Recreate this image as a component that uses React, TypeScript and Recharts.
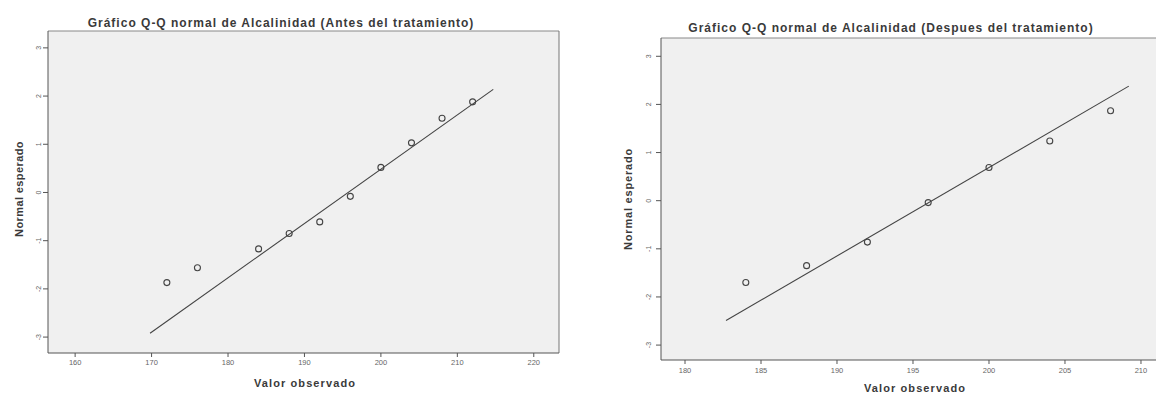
import React from 'react';
import { ScatterChart, Scatter, XAxis, YAxis, ReferenceLine, ReferenceArea } from 'recharts';

const antesX = [172, 176, 184, 188, 192, 196, 200, 204, 208, 212];
const antesY = [-1.87, -1.56, -1.17, -0.85, -0.61, -0.08, 0.52, 1.03, 1.54, 1.88];
const antesLineX = [169.8, 214.7];
const antesLineY = [-2.92, 2.14];
const antesXTicks = [160, 170, 180, 190, 200, 210, 220];

const despuesX = [184, 188, 192, 196, 200, 204, 208];
const despuesY = [-1.7, -1.35, -0.86, -0.04, 0.69, 1.24, 1.87];
const despuesLineX = [182.7, 209.2];
const despuesLineY = [-2.49, 2.38];
const despuesXTicks = [180, 185, 190, 195, 200, 205, 210];

const yTicks = [-3, -2, -1, 0, 1, 2, 3];

const titleAntes = 'Gráfico Q-Q normal de Alcalinidad (Antes del tratamiento)';
const titleDespues = 'Gráfico Q-Q normal de Alcalinidad (Despues del tratamiento)';
const yLabel = 'Normal esperado';
const xLabel = 'Valor observado';

const FONT = '"Liberation Sans", Arial, sans-serif';
const INK = '#3a3a3a';

const toPoints = (xs: number[], ys: number[]) => xs.map((x, i) => ({ x, y: ys[i] }));

const Dot = (props: any) => {
  const { cx, cy } = props;
  if (cx == null || cy == null) return null;
  return <circle cx={cx} cy={cy} r={3} fill="none" stroke="#444" strokeWidth={1.1} />;
};

const YTick = (props: any) => {
  const { x, y, payload } = props;
  return (
    <text
      x={x}
      y={y}
      transform={`rotate(-90 ${x} ${y})`}
      textAnchor="middle"
      fontSize={7}
      fill="#666"
      fontFamily={FONT}
    >
      {payload.value}
    </text>
  );
};

const XTick = (props: any) => {
  const { x, y, payload } = props;
  return (
    <text x={x} y={y} dy={6} textAnchor="middle" fontSize={7.5} fill="#666" fontFamily={FONT}>
      {payload.value}
    </text>
  );
};

type QQProps = {
  width: number;
  height: number;
  margin: { top: number; right: number; bottom: number; left: number };
  yAxisWidth: number;
  xAxisHeight: number;
  xDomain: [number, number];
  yDomain: [number, number];
  xTicks: number[];
  xs: number[];
  ys: number[];
  lineX: number[];
  lineY: number[];
  yTickMargin: number;
  xTickMargin: number;
  rightBorder: boolean;
};

const QQChart = (p: QQProps) => {
  const data = toPoints(p.xs, p.ys);
  const seg = toPoints(p.lineX, p.lineY);
  return (
    <ScatterChart width={p.width} height={p.height} margin={p.margin}>
      <XAxis
        type="number"
        dataKey="x"
        domain={p.xDomain}
        ticks={p.xTicks}
        allowDataOverflow
        height={p.xAxisHeight}
        tickSize={4}
        tickMargin={p.xTickMargin}
        tick={<XTick />}
        stroke="#555"
        axisLine={{ stroke: '#555' }}
        tickLine={{ stroke: '#555' }}
      />
      <YAxis
        type="number"
        dataKey="y"
        domain={p.yDomain}
        ticks={yTicks}
        allowDataOverflow
        width={p.yAxisWidth}
        tickSize={5}
        tickMargin={p.yTickMargin}
        tick={<YTick />}
        stroke="#555"
        axisLine={{ stroke: '#555' }}
        tickLine={{ stroke: '#555' }}
      />
      <ReferenceArea
        x1={p.xDomain[0]}
        x2={p.xDomain[1]}
        y1={p.yDomain[0]}
        y2={p.yDomain[1]}
        fill="#f0f0f0"
        fillOpacity={1}
        stroke="none"
        ifOverflow="visible"
      />
      <ReferenceLine y={p.yDomain[1]} stroke="#888" strokeWidth={1} ifOverflow="visible" />
      {p.rightBorder && <ReferenceLine x={p.xDomain[1]} stroke="#777" strokeWidth={1} ifOverflow="visible" />}
      <ReferenceLine segment={seg} stroke="#444" strokeWidth={1.1} ifOverflow="visible" />
      <Scatter data={data} shape={<Dot />} isAnimationActive={false} />
    </ScatterChart>
  );
};

const textStyle: React.CSSProperties = {
  position: 'absolute',
  fontFamily: FONT,
  fontWeight: 'bold',
  color: INK,
  whiteSpace: 'nowrap',
  lineHeight: 1,
};

const Centered = ({
  x,
  y,
  size,
  text,
  rotate,
  spacing,
}: {
  x: number;
  y: number;
  size: number;
  text: string;
  rotate?: boolean;
  spacing?: number;
}) => (
  <div
    style={{
      ...textStyle,
      left: x,
      top: y,
      fontSize: size,
      letterSpacing: spacing ?? 0,
      transform: `translate(-50%, -50%)${rotate ? ' rotate(-90deg)' : ''}`,
    }}
  >
    {text}
  </div>
);

export default function App() {
  return (
    <div style={{ position: 'absolute', left: 0, top: 0, width: 1156, height: 396, overflow: 'hidden', background: '#fff' }}>
      <div style={{ position: 'absolute', left: 0, top: 0, width: 580, height: 396 }}>
        <QQChart
          width={580}
          height={396}
          margin={{ top: 31, right: 21, bottom: 0, left: 0 }}
          yAxisWidth={48}
          xAxisHeight={43}
          xDomain={[156.45, 223.3]}
          yDomain={[-3.33, 3.35]}
          xTicks={antesXTicks}
          xs={antesX}
          ys={antesY}
          lineX={antesLineX}
          lineY={antesLineY}
          yTickMargin={2}
          xTickMargin={2}
          rightBorder
        />
        <Centered x={281} y={23} size={12} spacing={1} text={titleAntes} />
        <Centered x={19} y={189} size={11} spacing={0.4} text={yLabel} rotate />
        <Centered x={305} y={383} size={11} spacing={1.1} text={xLabel} />
      </div>
      <div style={{ position: 'absolute', left: 580, top: 0, width: 576, height: 396, overflow: 'hidden' }}>
        <QQChart
          width={590}
          height={396}
          margin={{ top: 38, right: 0, bottom: 0, left: 0 }}
          yAxisWidth={81}
          xAxisHeight={36}
          xDomain={[178.42, 211.91]}
          yDomain={[-3.31, 3.38]}
          xTicks={despuesXTicks}
          xs={despuesX}
          ys={despuesY}
          lineX={despuesLineX}
          lineY={despuesLineY}
          yTickMargin={5}
          xTickMargin={3}
          rightBorder={false}
        />
        <Centered x={311} y={28} size={12} spacing={1} text={titleDespues} />
        <Centered x={48} y={199} size={11} spacing={0.8} text={yLabel} rotate />
        <Centered x={335} y={388} size={11} spacing={1.1} text={xLabel} />
      </div>
    </div>
  );
}
